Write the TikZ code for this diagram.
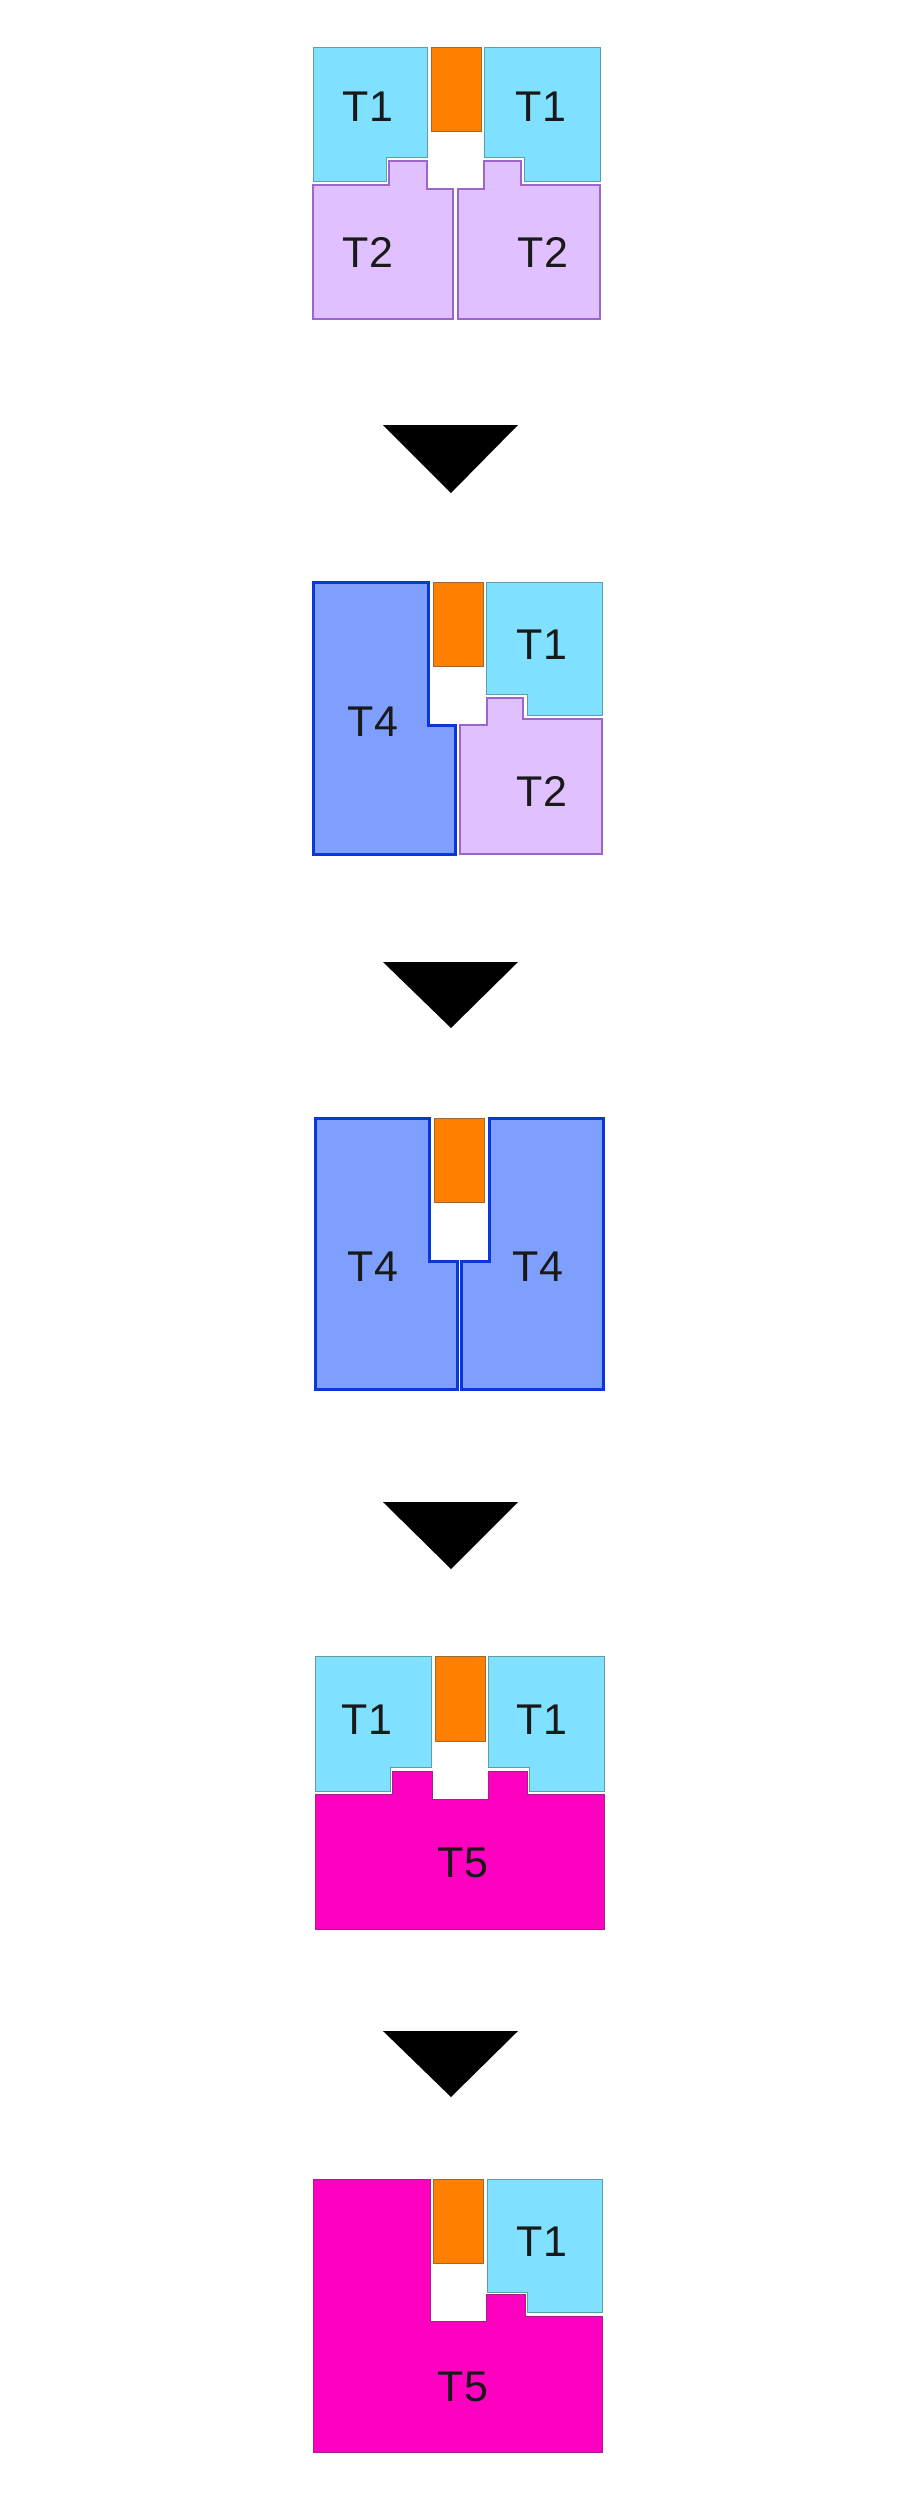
\documentclass[tikz,border=0pt]{standalone}
\usepackage{fontspec}
\setmainfont{Liberation Sans}
\usepackage{tikz}
\usetikzlibrary{positioning}

\definecolor{tonefill}{HTML}{80E0FF}
\definecolor{toneline}{HTML}{5F9EA5}
\definecolor{ttwofill}{HTML}{E0C0FF}
\definecolor{ttwoline}{HTML}{9A66CC}
\definecolor{tfourfill}{HTML}{7F9FFF}
\definecolor{tfourline}{HTML}{0A38D8}
\definecolor{tfivefill}{HTML}{FF00C0}
\definecolor{tfiveline}{HTML}{A02090}
\definecolor{corefill}{HTML}{FF8000}
\definecolor{coreline}{HTML}{A06830}

\begin{document}
\begin{tikzpicture}[x=1pt, y=-1pt,
    tone/.style={fill=tonefill, draw=toneline, line width=1pt},
    ttwo/.style={fill=ttwofill, draw=ttwoline, line width=2pt},
    tfour/.style={fill=tfourfill, draw=tfourline, line width=3pt},
    tfive/.style={fill=tfivefill, draw=tfiveline, line width=1pt},
    core/.style={fill=corefill, draw=coreline, line width=1pt},
    down_arrow/.style={fill=black},
    lbl/.style={text=black!90, font=\fontsize{43}{50}\selectfont, inner sep=0pt}]

    \useasboundingbox (0,0) rectangle (900,2509);

    % stage 1
    \draw[tone] (313,47) -- (427,47) -- (427,157) -- (386,157) -- (386,181) -- (313,181) -- cycle;
    \draw[core] (431,47) rectangle (481,131);
    \draw[tone] (484,47) -- (600,47) -- (600,181) -- (524,181) -- (524,157) -- (484,157) -- cycle;
    \draw[ttwo] (313,185) -- (389,185) -- (389,161) -- (427,161) -- (427,189) -- (453,189) -- (453,319) -- (313,319) -- cycle;
    \draw[ttwo] (458,189) -- (484,189) -- (484,161) -- (521,161) -- (521,185) -- (600,185) -- (600,319) -- (458,319) -- cycle;
    \node[lbl] (t1_left_1)  at (368,107) {T1};
    \node[lbl] (t1_right_1) at (541,107) {T1};
    \node[lbl] (t2_left_1)  at (368,252) {T2};
    \node[lbl] (t2_right_1) at (543,252) {T2};

    \fill[down_arrow] (383,425) -- (518,425) -- (451,493) -- cycle;

    % stage 2
    \draw[tfour] (313,582) -- (428,582) -- (428,725) -- (455,725) -- (455,854) -- (313,854) -- cycle;
    \draw[core] (433,582) rectangle (483,666);
    \draw[tone] (486,582) -- (602,582) -- (602,715) -- (527,715) -- (527,694) -- (486,694) -- cycle;
    \draw[ttwo] (460,725) -- (487,725) -- (487,698) -- (523,698) -- (523,719) -- (602,719) -- (602,854) -- (460,854) -- cycle;
    \node[lbl] (t4_left_2)  at (373,722) {T4};
    \node[lbl] (t1_right_2) at (542,645) {T1};
    \node[lbl] (t2_right_2) at (542,791) {T2};

    \fill[down_arrow] (383,962) -- (518,962) -- (451,1028) -- cycle;

    % stage 3
    \draw[tfour] (315,1118) -- (429,1118) -- (429,1261) -- (457,1261) -- (457,1389) -- (315,1389) -- cycle;
    \draw[core] (434,1118) rectangle (484,1202);
    \draw[tfour] (489,1118) -- (603,1118) -- (603,1389) -- (461,1389) -- (461,1261) -- (489,1261) -- cycle;
    \node[lbl] (t4_left_3)  at (373,1267) {T4};
    \node[lbl] (t4_right_3) at (538,1267) {T4};

    \fill[down_arrow] (383,1502) -- (518,1502) -- (451,1569) -- cycle;

    % stage 4
    \draw[tone] (315,1656) -- (431,1656) -- (431,1767) -- (390,1767) -- (390,1791) -- (315,1791) -- cycle;
    \draw[core] (435,1656) rectangle (485,1741);
    \draw[tone] (488,1656) -- (604,1656) -- (604,1791) -- (529,1791) -- (529,1767) -- (488,1767) -- cycle;
    \draw[tfive] (315,1794) -- (392,1794) -- (392,1771) -- (432,1771) -- (432,1799) -- (488,1799) -- (488,1771) -- (527,1771) -- (527,1794) -- (604,1794) -- (604,1929) -- (315,1929) -- cycle;
    \node[lbl] (t1_left_4)  at (367,1720) {T1};
    \node[lbl] (t1_right_4) at (542,1720) {T1};
    \node[lbl] (t5_4)       at (463,1863) {T5};

    \fill[down_arrow] (383,2031) -- (518,2031) -- (451,2097) -- cycle;

    % stage 5
    \draw[tfive] (313,2179) -- (430,2179) -- (430,2321) -- (486,2321) -- (486,2294) -- (525,2294) -- (525,2316) -- (602,2316) -- (602,2452) -- (313,2452) -- cycle;
    \draw[core] (433,2179) rectangle (483,2263);
    \draw[tone] (487,2179) -- (602,2179) -- (602,2312) -- (527,2312) -- (527,2292) -- (487,2292) -- cycle;
    \node[lbl] (t1_right_5) at (542,2242) {T1};
    \node[lbl] (t5_5)       at (463,2387) {T5};

\end{tikzpicture}
\end{document}
